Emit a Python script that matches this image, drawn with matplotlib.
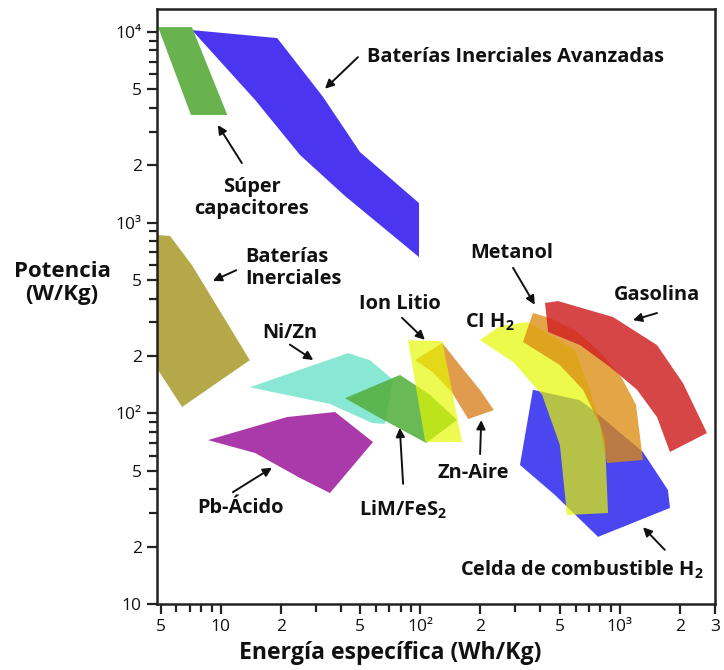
import matplotlib
matplotlib.use("Agg")
import matplotlib.pyplot as plt
from matplotlib.ticker import FixedLocator, NullFormatter

plt.rcParams['font.family'] = ['Open Sans', 'DejaVu Sans']
plt.rcParams['mathtext.fontset'] = 'custom'
plt.rcParams['mathtext.rm'] = 'Open Sans'
plt.rcParams['mathtext.bf'] = 'Open Sans:bold'

# Ragone regions: vertices as (specific energy Wh/kg, specific power W/kg)
adv_flywheel_energy = [7.18, 19.2, 32.6, 49.9, 98.6, 98.6, 42.0, 25.0, 14.9]
adv_flywheel_power = [10230, 9290, 4560, 2345, 1267, 660, 1379, 2262, 4395]

supercap_energy = [4.86, 7.18, 10.8, 7.10]
supercap_power = [10600, 10600, 3670, 3670]

flywheel_energy = [4.85, 5.58, 7.18, 14.0, 6.41, 4.85]
flywheel_power = [861, 851, 599, 190, 108, 169]

nizn_energy = [14.0, 43.5, 56.0, 73.1, 66.6, 57.4, 35.3]
nizn_power = [137, 207, 190, 150, 88, 89, 112]

pb_energy = [8.64, 21.5, 37.4, 58.0, 35.3, 25.0, 14.9]
pb_power = [72.4, 95.6, 101.6, 70.7, 38.2, 45.8, 61.9]

lim_energy = [42.0, 79.2, 112, 153, 107, 62.9]
lim_power = [120, 159, 125, 92.2, 69.9, 94.5]

znair_energy = [94.1, 129, 162, 199, 234, 174, 144, 115]
znair_power = [190, 234, 173, 133, 104, 93.3, 129, 165]

liion_energy = [86.8, 129, 162, 106]
liion_power = [242, 239, 70.7, 70.7]

fuelcell_energy = [367, 632, 734, 1306, 1743, 1784, 778, 473, 316]
fuelcell_power = [133, 117, 104, 62.7, 39.6, 31.9, 22.5, 37.3, 53.6]

ich2_energy = [199, 251, 347, 596, 709, 843, 873, 544, 501, 408, 292]
ich2_power = [242, 287, 301, 215, 133, 72.4, 30.0, 29.3, 68.2, 125, 186]

methanol_energy = [327, 367, 447, 596, 796, 1025, 1205, 1306, 863, 796, 654, 501]
methanol_power = [237, 336, 316, 273, 210, 153, 111, 56.9, 54.9, 86.8, 133, 179]

gasoline_energy = [422, 490, 924, 1536, 2073, 2734, 1784, 1536, 1219, 893, 632, 437]
gasoline_power = [379, 388, 320, 228, 144, 78.8, 62.7, 95.6, 133, 175, 228, 267]

x_major = [5, 10, 20, 50, 100, 200, 500, 1000, 2000, 3000]
x_major_labels = ['5', '10', '2', '5', '10²', '2', '5', '10³', '2', '3']
y_major = [10, 20, 50, 100, 200, 500, 1000, 2000, 5000, 10000]
y_major_labels = ['10', '2', '5', '10²', '2', '5', '10³', '2', '5', '10⁴']
minor_mult = [3, 4, 6, 7, 8, 9]

fig = plt.figure(figsize=(7.24, 6.7), dpi=100)
ax = fig.add_axes([0.2169, 0.0985, 0.7707, 0.8881])
ax.set_xscale('log')
ax.set_yscale('log')
ax.set_xlim(4.8, 3000)
ax.set_ylim(10, 13200)

regions = [
    (adv_flywheel_energy, adv_flywheel_power, '#4a35f0', 1.0, 2),
    (supercap_energy, supercap_power, '#68b34e', 1.0, 2),
    (flywheel_energy, flywheel_power, '#b5a849', 1.0, 2),
    (nizn_energy, nizn_power, '#88e8d4', 1.0, 2),
    (pb_energy, pb_power, '#aa3aaa', 1.0, 2),
    (lim_energy, lim_power, '#55b040', 0.88, 3),
    (znair_energy, znair_power, '#dc8a2e', 0.85, 3),
    (liion_energy, liion_power, '#e5f800', 0.68, 4),
    (fuelcell_energy, fuelcell_power, '#4a46f0', 1.0, 2),
    (ich2_energy, ich2_power, '#e5f800', 0.7, 3),
    (methanol_energy, methanol_power, '#dc8a0f', 0.77, 4),
    (gasoline_energy, gasoline_power, '#d02222', 0.84, 5),
]
for e, p, c, a, z in regions:
    ax.fill(e, p, color=c, alpha=a, lw=0, zorder=z)

# Ticks
ax.xaxis.set_major_locator(FixedLocator(x_major))
ax.set_xticklabels(x_major_labels)
ax.yaxis.set_major_locator(FixedLocator(y_major))
ax.set_yticklabels(y_major_labels)
x_minor = [m * d for d in (1, 10, 100) for m in minor_mult if 4.8 < m * d < 3000]
y_minor = [m * d for d in (10, 100, 1000) for m in minor_mult]
ax.xaxis.set_minor_locator(FixedLocator(x_minor))
ax.yaxis.set_minor_locator(FixedLocator(y_minor))
ax.xaxis.set_minor_formatter(NullFormatter())
ax.yaxis.set_minor_formatter(NullFormatter())
ax.tick_params(which='both', direction='out', width=1.6, color='#222222',
               labelsize=12.5, pad=4, labelcolor='#111111')
ax.tick_params(which='major', length=7)
ax.tick_params(which='minor', length=6)
for s in ax.spines.values():
    s.set_linewidth(1.8)
    s.set_color('#222222')

# Labels with arrows
lab = dict(fontsize=14.4, fontweight='bold', color='#111111', transform=ax.transAxes, zorder=10)
arrow = dict(arrowstyle='-|>', color='#111111', lw=1.4, mutation_scale=13, shrinkA=0, shrinkB=0)

def pointer(tail, head):
    ax.annotate('', xy=head, xytext=tail, xycoords='axes fraction',
                textcoords='axes fraction', arrowprops=arrow, zorder=10)

ax.text(0.376, 0.919, 'Baterías Inerciales Avanzadas', ha='left', va='center', **lab)
pointer((0.360, 0.919), (0.301, 0.866))

ax.text(0.170, 0.682, 'Súper\ncapacitores', ha='center', va='center', linespacing=1.1, **lab)
pointer((0.152, 0.741), (0.109, 0.805))

ax.text(0.158, 0.565, 'Baterías\nInerciales', ha='left', va='center', linespacing=1.1, **lab)
pointer((0.142, 0.561), (0.100, 0.543))

ax.text(0.238, 0.455, 'Ni/Zn', ha='center', va='center', **lab)
pointer((0.238, 0.436), (0.280, 0.410))

ax.text(0.435, 0.504, 'Ion Litio', ha='center', va='center', **lab)
pointer((0.439, 0.481), (0.480, 0.444))

ax.text(0.597, 0.474, r'CI H$_\mathbf{2}$', ha='center', va='center', **lab)

ax.text(0.636, 0.590, 'Metanol', ha='center', va='center', **lab)
pointer((0.638, 0.565), (0.677, 0.503))

ax.text(0.896, 0.519, 'Gasolina', ha='center', va='center', **lab)
pointer((0.896, 0.489), (0.853, 0.477))

ax.text(0.566, 0.220, 'Zn-Aire', ha='center', va='center', **lab)
pointer((0.579, 0.252), (0.581, 0.309))

ax.text(0.441, 0.158, r'LiM/FeS$_\mathbf{2}$', ha='center', va='center', **lab)
pointer((0.441, 0.202), (0.435, 0.296))

ax.text(0.149, 0.161, 'Pb-Ácido', ha='center', va='center', **lab)
pointer((0.136, 0.188), (0.206, 0.229))

ax.text(0.762, 0.057, r'Celda de combustible H$_\mathbf{2}$', ha='center', va='center', **lab)
pointer((0.910, 0.091), (0.871, 0.129))

fig.text(0.0856, 0.578, 'Potencia\n(W/Kg)', ha='center', va='center',
         fontsize=16, fontweight='bold', color='#111111', linespacing=1.15)
fig.text(0.539, 0.025, 'Energía específica (Wh/Kg)', ha='center', va='center',
         fontsize=16.6, fontweight='bold', color='#111111')

fig.savefig('out.png', dpi=100)
